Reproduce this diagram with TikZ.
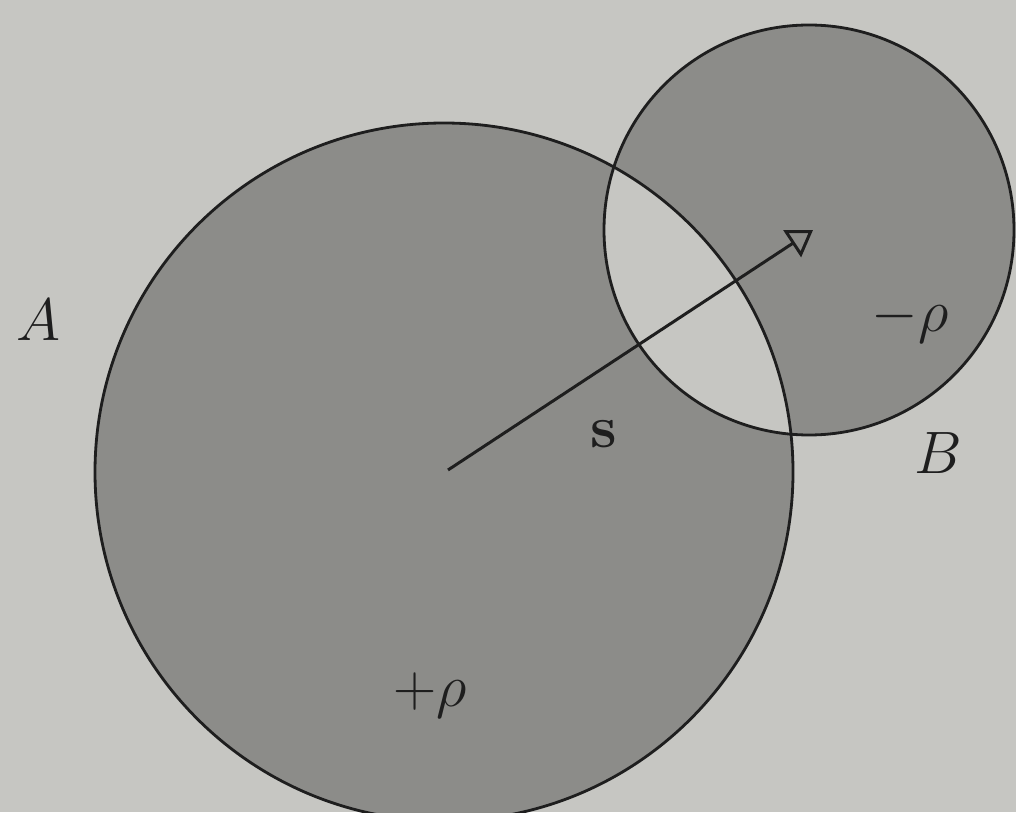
\documentclass[tikz,border=0pt]{standalone}
\usepackage{amsmath,amssymb}
\usepackage{xcolor}
\usepackage{tikz}
\usetikzlibrary{calc,arrows.meta,positioning}
\definecolor{paper}{HTML}{C6C6C2}
\definecolor{charge}{HTML}{8C8C89}
\definecolor{inkc}{HTML}{1E1E1E}
\tikzset{
  ring/.style={draw=inkc,line width=1.6pt},
  sv/.style={-{Triangle[open,length=5mm,width=6.4mm]},line width=1.7pt,inkc},
  lbl/.style={inkc,font=\Huge,scale=1.37,inner sep=0pt}
}

\begin{document}
\begin{tikzpicture}[x=0.02cm,y=0.02cm]
\fill[paper] (0,0) rectangle (1016,812);
\useasboundingbox (0,0) rectangle (1016,812);
\coordinate (CA) at (444,340); \coordinate (CB) at (809,582);
\coordinate (O) at (448,342); \coordinate (P) at (813,582);
% the two spheres, overlap left empty
\fill[charge,even odd rule] (CA) circle (349) (CB) circle (205);
\draw[ring] (CA) circle (349);
\draw[ring] (CB) circle (205);
\draw[sv] (O)--(P);
\node[lbl] (labA) at (38,492) {$A$};
\node[lbl] (labB) at (938,359) {$B$};
\node[lbl] (rhoB) at (910,492) {$-\rho$};
\node[lbl] (rhoA) at (430,117) {$+\rho$};
\node[lbl] (svec) at (604,378) {$\mathbf{s}$};
\end{tikzpicture}
\end{document}
